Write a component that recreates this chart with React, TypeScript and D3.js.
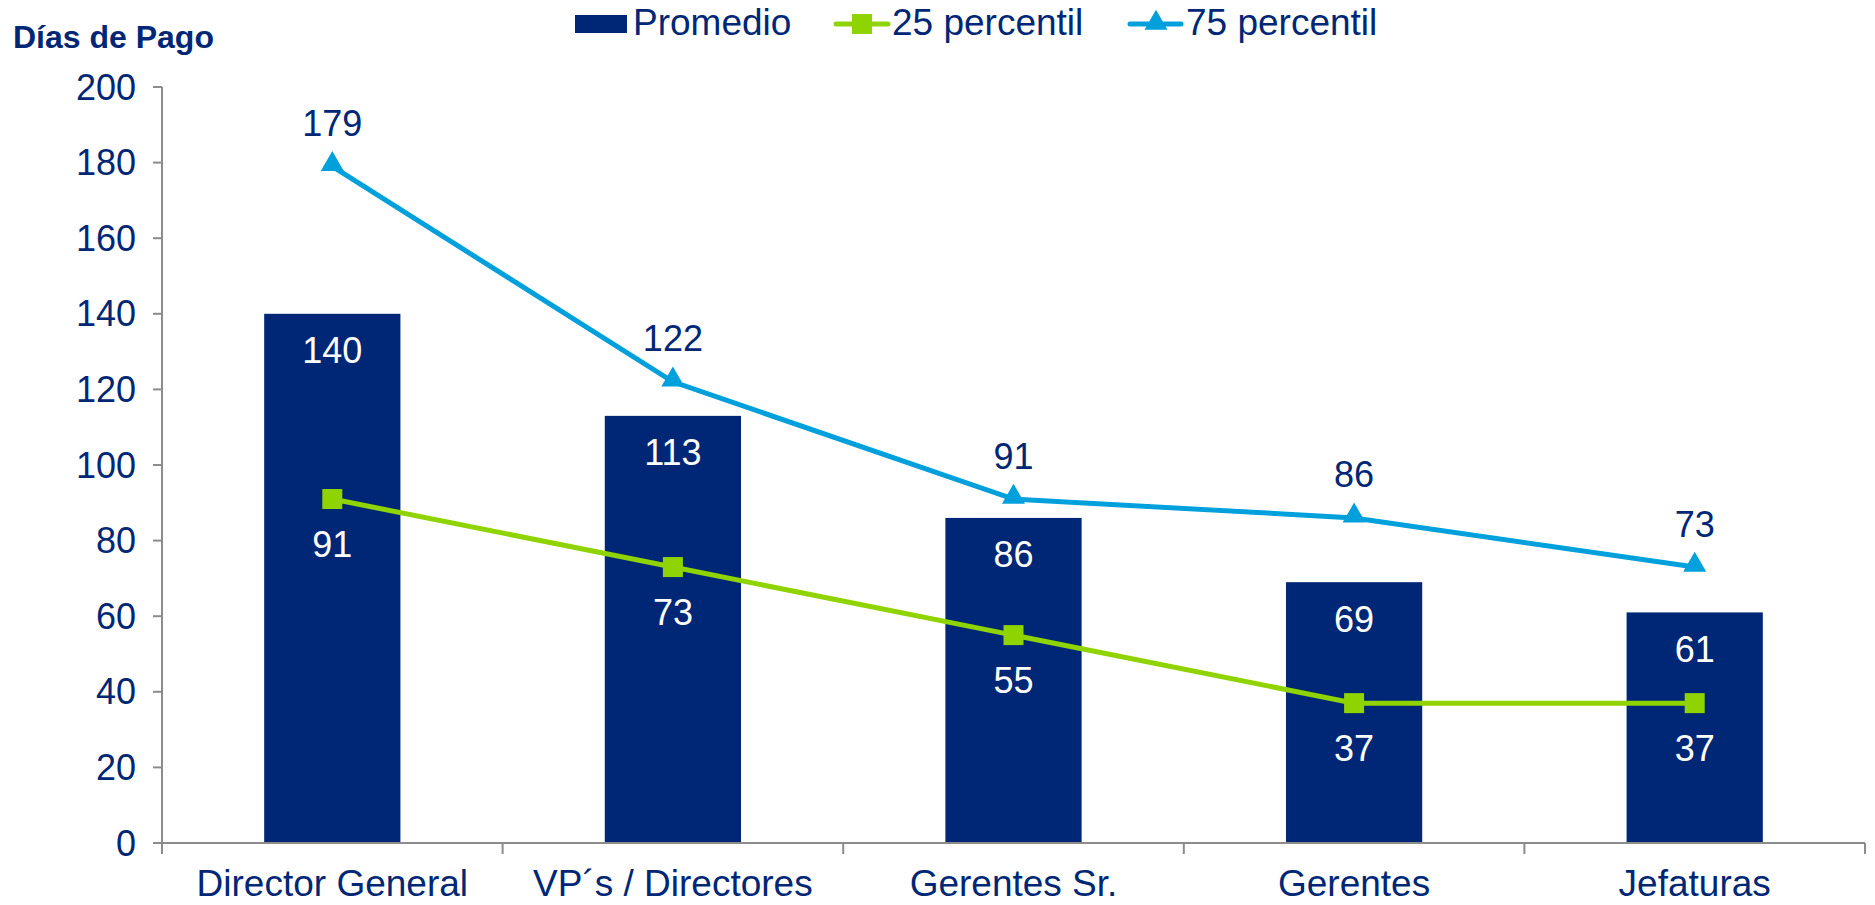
import React from "react";
import * as d3 from "d3";

const categories = ["Director General", "VP´s / Directores", "Gerentes Sr.", "Gerentes", "Jefaturas"];
const promedio = [140, 113, 86, 69, 61];
const p25 = [91, 73, 55, 37, 37];
const p75 = [179, 122, 91, 86, 73];
const yTicks = [0, 20, 40, 60, 80, 100, 120, 140, 160, 180, 200];

const W = 1875;
const H = 905;
const NAVY = "#002776";
const GREEN = "#8fd400";
const BLUE = "#00a0dc";
const AXIS = "#8c8c8c";
const FONT = "'Liberation Sans', Arial, sans-serif";

export default function App() {
  const x = d3.scaleBand<string>().domain(categories).range([162, 1865]).paddingInner(0).paddingOuter(0);
  const y = d3.scaleLinear().domain([0, 200]).range([843, 87]);
  const bw = x.bandwidth() * 0.4;
  const cx = (c: string) => (x(c) as number) + x.bandwidth() / 2;

  const line = d3
    .line<number>()
    .x((_, i) => cx(categories[i]))
    .y((d) => y(d));

  const tri = d3.symbol().type(d3.symbolTriangle).size(230)();

  const fs = 36;

  return (
    <svg
      width={W}
      height={H}
      style={{ position: "absolute", left: 0, top: 0, background: "#fff" }}
      fontFamily={FONT}
    >
      {/* y label */}
      <text x={13} y={48} fontSize={32} fontWeight="bold" fill={NAVY}>
        Días de Pago
      </text>

      {/* legend */}
      <g>
        <rect x={575} y={15} width={52} height={18} fill={NAVY} />
        <text x={633} y={35} fontSize={37} fill={NAVY}>
          Promedio
        </text>
        <line x1={836} x2={888} y1={24} y2={24} stroke={GREEN} strokeWidth={5} strokeLinecap="round" />
        <rect x={852} y={14} width={20} height={20} fill={GREEN} />
        <text x={892} y={35} fontSize={37} fill={NAVY}>
          25 percentil
        </text>
        <line x1={1130} x2={1181} y1={24} y2={24} stroke={BLUE} strokeWidth={5} strokeLinecap="round" />
        <path d={tri as string} transform={`translate(1156,23)`} fill={BLUE} />
        <text x={1186} y={35} fontSize={37} fill={NAVY}>
          75 percentil
        </text>
      </g>

      {/* bars */}
      {categories.map((c, i) => (
        <rect
          key={c}
          x={cx(c) - bw / 2}
          y={y(promedio[i])}
          width={bw}
          height={y(0) - y(promedio[i])}
          fill={NAVY}
        />
      ))}

      {/* axes */}
      <line x1={162} x2={162} y1={y(200)} y2={y(0)} stroke={AXIS} strokeWidth={2} />
      <line x1={162} x2={1865} y1={y(0)} y2={y(0)} stroke={AXIS} strokeWidth={2} />
      {yTicks.map((t) => (
        <g key={t}>
          <line x1={153} x2={162} y1={y(t)} y2={y(t)} stroke={AXIS} strokeWidth={2} />
          <text x={136} y={y(t)} fontSize={fs} fill={NAVY} textAnchor="end" dominantBaseline="central">
            {t}
          </text>
        </g>
      ))}
      {[...categories.map((c) => x(c) as number), 1865].map((v, i) => (
        <line key={i} x1={v} x2={v} y1={y(0)} y2={y(0) + 11} stroke={AXIS} strokeWidth={2} />
      ))}
      {categories.map((c) => (
        <text key={c} x={cx(c)} y={896} fontSize={37} fill={NAVY} textAnchor="middle">
          {c}
        </text>
      ))}

      {/* bar labels */}
      {categories.map((c, i) => (
        <text
          key={c}
          x={cx(c)}
          y={y(promedio[i]) + 37}
          fontSize={fs}
          fill="#fff"
          textAnchor="middle"
          dominantBaseline="central"
        >
          {promedio[i]}
        </text>
      ))}

      {/* 25 percentil */}
      <path d={line(p25) as string} fill="none" stroke={GREEN} strokeWidth={5} />
      {categories.map((c, i) => (
        <rect key={c} x={cx(c) - 10} y={y(p25[i]) - 10} width={20} height={20} fill={GREEN} />
      ))}
      {categories.map((c, i) => (
        <text
          key={c}
          x={cx(c)}
          y={y(p25[i]) + 45}
          fontSize={fs}
          fill="#fff"
          textAnchor="middle"
          dominantBaseline="central"
        >
          {p25[i]}
        </text>
      ))}

      {/* 75 percentil */}
      <path d={line(p75) as string} fill="none" stroke={BLUE} strokeWidth={5} />
      {categories.map((c, i) => (
        <path key={c} d={tri as string} transform={`translate(${cx(c)},${y(p75[i]) - 2})`} fill={BLUE} />
      ))}
      {categories.map((c, i) => (
        <text
          key={c}
          x={cx(c)}
          y={y(p75[i]) - 43}
          fontSize={fs}
          fill={NAVY}
          textAnchor="middle"
          dominantBaseline="central"
        >
          {p75[i]}
        </text>
      ))}
    </svg>
  );
}
